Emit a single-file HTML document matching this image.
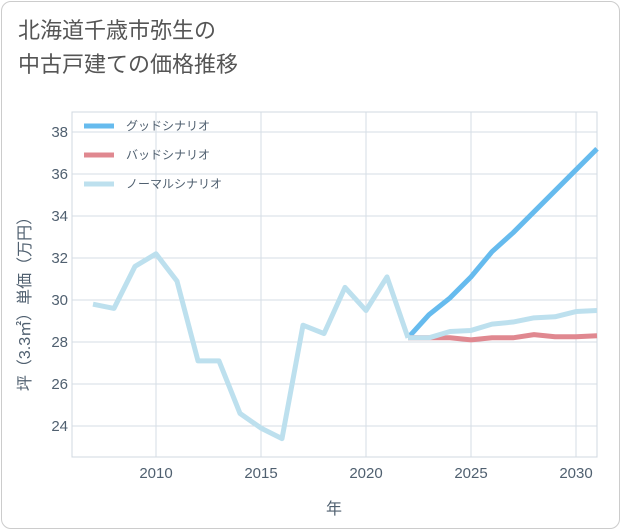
<!DOCTYPE html>
<html><head><meta charset="utf-8">
<style>
body{margin:0;background:#fff;font-family:"Liberation Sans","Noto Sans CJK JP",sans-serif;}
.card{position:absolute;left:1px;top:1px;width:617px;height:526px;border:1px solid #ccc;border-radius:10px;background:#fff;}
.title{position:absolute;left:18px;top:14px;font-size:22px;color:#555;line-height:34px;}
</style></head><body>
<div class="card"></div>
<div class="title">北海道千歳市弥生の<br>中古戸建ての価格推移</div>
<svg id="c" width="621" height="530" style="position:absolute;left:0;top:0"></svg>
<script>
const years=[2007,2008,2009,2010,2011,2012,2013,2014,2015,2016,2017,2018,2019,2020,2021,2022];
const history=[29.8,29.6,31.6,32.2,30.9,27.1,27.1,24.6,23.9,23.4,28.8,28.4,30.6,29.5,31.1,28.2];
const futureYears=[2022,2023,2024,2025,2026,2027,2028,2029,2030,2031];
const good=[28.2,29.3,30.1,31.1,32.3,33.2,34.2,35.2,36.2,37.2];
const bad=[28.2,28.2,28.2,28.1,28.2,28.2,28.35,28.25,28.25,28.3];
const normal=[28.2,28.2,28.5,28.55,28.85,28.95,29.15,29.2,29.45,29.5];
const xTicks=[2010,2015,2020,2025,2030];
const yTicks=[24,26,28,30,32,34,36,38];
const L=72,R=597,T=112,B=457;
const X=v=>156+(v-2010)*21, Y=v=>426-(v-24)*21;
const svg=document.getElementById('c');const NS='http://www.w3.org/2000/svg';
function mk(t,a,p){const e=document.createElementNS(NS,t);for(const k in a)e.setAttribute(k,a[k]);(p||svg).appendChild(e);return e;}
const bg=mk('rect',{x:L,y:T,width:R-L,height:B-T,fill:'#fff',stroke:'#d0d8e0'});

xTicks.forEach(t=>{const g=mk('line',{x1:X(t),x2:X(t),y1:T,y2:B,stroke:'#d5dde5'});

const tx=mk('text',{x:X(t),y:478,'text-anchor':'middle','font-size':15,fill:'#506070'});tx.textContent=t;
});
yTicks.forEach(t=>{const g=mk('line',{x1:L,x2:R,y1:Y(t),y2:Y(t),stroke:'#d5dde5'});

const tx=mk('text',{x:L-4,y:Y(t)+5,'text-anchor':'end','font-size':15,fill:'#506070'});tx.textContent=t;
});
function line(xs,ys,c,n){const p=mk('polyline',{points:xs.map((x,i)=>X(x)+','+Y(ys[i])).join(' '),fill:'none',stroke:c,'stroke-width':5,'stroke-linejoin':'round'});
}
line(futureYears,good,'#66bbee','good-scenario-line');
line(futureYears,bad,'#e08890','bad-scenario-line');
line(futureYears,normal,'#bde0ee','normal-scenario-line');
line(years,history,'#bde0ee','history-line');
const leg=[['グッドシナリオ','#66bbee',126],['バッドシナリオ','#e08890',155],['ノーマルシナリオ','#bde0ee',184]];
leg.forEach(([t,c,y])=>{const l=mk('line',{x1:84,x2:114,y1:y,y2:y,stroke:c,'stroke-width':5});

const tx=mk('text',{x:126,y:y+4,'font-size':12,fill:'#506070'});tx.textContent=t;
});
const xt=mk('text',{x:334,y:514,'text-anchor':'middle','font-size':16,fill:'#506070'});xt.textContent='年';

const yt=mk('text',{x:0,y:0,'text-anchor':'middle','font-size':16,fill:'#506070',transform:'translate(30,300) rotate(-90)'});yt.textContent='坪（3.3㎡）単価（万円）';

</script>
</body></html>
